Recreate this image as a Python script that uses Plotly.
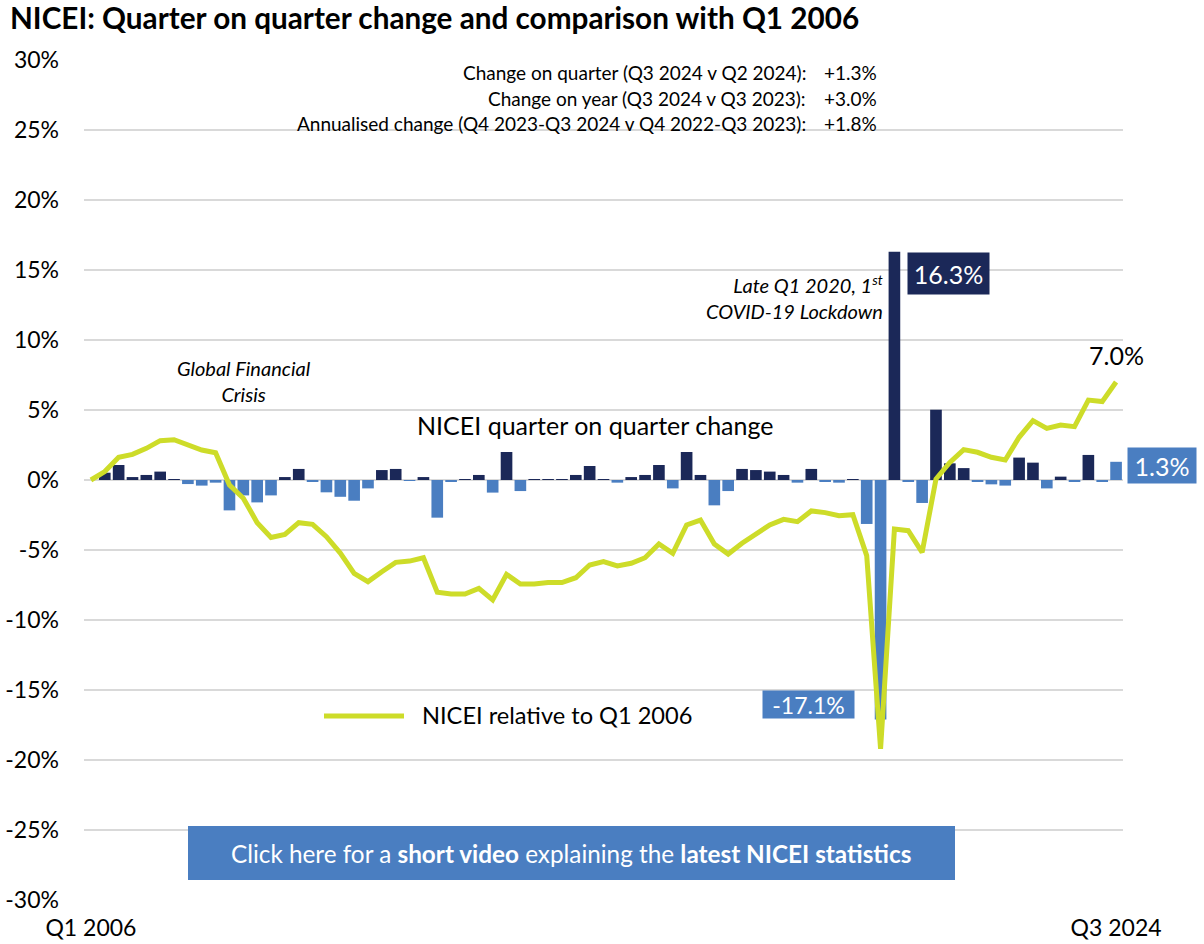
import plotly.graph_objects as go

# ---------------- data ----------------
years = list(range(2006, 2025))
quarters = [f"Q{q} {y}" for y in years for q in (1, 2, 3, 4)][:75]  # Q1 2006 .. Q3 2024

qoq_change = [
    None, 0.52, 1.07, 0.21, 0.36, 0.60, 0.05, -0.29, -0.40, -0.19,
    -2.17, -1.10, -1.60, -1.10, 0.21, 0.79, -0.10, -0.88, -1.20, -1.48,
    -0.60, 0.71, 0.79, -0.02, 0.21, -2.69, -0.12, 0.07, 0.36, -0.90,
    2.00, -0.79, 0.02, 0.07, 0.02, 0.36, 1.00, 0.02, -0.19, 0.21,
    0.36, 1.07, -0.60, 2.00, 0.36, -1.81, -0.79, 0.79, 0.71, 0.60,
    0.36, -0.19, 0.79, -0.10, -0.19, 0.02, -3.14, -17.1, 16.3, -0.10,
    -1.64, 5.02, 1.19, 0.85, -0.12, -0.31, -0.40, 1.60, 1.24, -0.60,
    0.24, -0.12, 1.79, -0.10, 1.3,
]

relative_q1_2006 = [
    0.0, 0.60, 1.62, 1.83, 2.26, 2.81, 2.88, 2.50, 2.14, 1.95,
    -0.36, -1.30, -3.05, -4.10, -3.88, -3.05, -3.17, -4.05, -5.22, -6.67,
    -7.26, -6.55, -5.88, -5.79, -5.55, -8.02, -8.14, -8.14, -7.74, -8.57,
    -6.74, -7.43, -7.43, -7.33, -7.33, -6.98, -6.07, -5.83, -6.14, -5.95,
    -5.55, -4.57, -5.24, -3.21, -2.86, -4.57, -5.29, -4.52, -3.81, -3.21,
    -2.81, -2.98, -2.21, -2.33, -2.55, -2.48, -5.40, -19.2, -3.50, -3.62,
    -5.17, 0.07, 1.26, 2.17, 1.98, 1.62, 1.43, 3.05, 4.24, 3.69,
    3.93, 3.81, 5.71, 5.60, 7.0,
]

x_tick_labels = ["Q1 2006", "Q3 2024"]
y_ticks = [-30, -25, -20, -15, -10, -5, 0, 5, 10, 15, 20, 25, 30]
y_tick_text = [f"{v}%" for v in y_ticks]

stats_labels = [
    "Change on quarter (Q3 2024 v Q2 2024):",
    "Change on year (Q3 2024 v Q3 2023):",
    "Annualised change (Q4 2023-Q3 2024 v Q4 2022-Q3 2023):",
]
stats_values = ["+1.3%", "+3.0%", "+1.8%"]

# ---------------- styling ----------------
NAVY = "#1B2858"
BLUE = "#4A7EC1"
LIME = "#CDDC29"
GRID = "#D9D9D9"
FONT = "Lato"

W, H = 1204, 944
L, R, T, B = 84, 81, 60, 44
PW, PH = W - L - R, H - T - B


def px(xpix):
    return (xpix - L) / PW


def py(ypix):
    return (H - B - ypix) / PH


last_idx = len(quarters) - 1
bar_colors = []
for i, v in enumerate(qoq_change):
    if v is None:
        bar_colors.append(NAVY)
    elif i == last_idx or v < 0:
        bar_colors.append(BLUE)
    else:
        bar_colors.append(NAVY)

fig = go.Figure()
fig.add_trace(go.Bar(
    x=quarters, y=qoq_change, marker=dict(color=bar_colors, line=dict(width=0)),
    name="NICEI quarter on quarter change", showlegend=False,
))
fig.add_trace(go.Scatter(
    x=quarters, y=relative_q1_2006, mode="lines",
    line=dict(color=LIME, width=5), name="NICEI relative to Q1 2006",
    showlegend=False,
))

annotations = []
# stats box
for k, (lab, val) in enumerate(zip(stats_labels, stats_values)):
    yy = 73 + k * 25.5
    annotations.append(dict(xref="paper", yref="paper", x=px(808), y=py(yy),
                            xanchor="right", yanchor="middle", text=lab, showarrow=False,
                            font=dict(family=FONT, size=19, color="#000")))
    annotations.append(dict(xref="paper", yref="paper", x=px(822), y=py(yy),
                            xanchor="left", yanchor="middle", text=val, showarrow=False,
                            font=dict(family=FONT, size=19, color="#000")))

# Global financial crisis
annotations.append(dict(xref="paper", yref="paper", x=px(244), y=py(381),
                        xanchor="center", yanchor="middle",
                        text="<i>Global Financial<br>Crisis</i>", showarrow=False,
                        font=dict(family=FONT, size=20, color="#000")))
# COVID
annotations.append(dict(xref="paper", yref="paper", x=px(885), y=py(297),
                        xanchor="right", yanchor="middle", align="right",
                        text="<i>Late Q1 2020, 1<sup>st</sup><br>COVID-19 Lockdown</i>",
                        showarrow=False, font=dict(family=FONT, size=20, color="#000")))
# bars label
annotations.append(dict(xref="paper", yref="paper", x=px(595), y=py(425),
                        xanchor="center", yanchor="middle",
                        text="NICEI quarter on quarter change", showarrow=False,
                        font=dict(family=FONT, size=25, color="#000")))
# data labels
annotations.append(dict(x=quarters[58], y=qoq_change[58], xref="x", yref="y",
                        xanchor="left", yanchor="top", xshift=13, text="16.3%",
                        showarrow=False, bgcolor=NAVY, borderpad=0, width=81, height=41,
                        font=dict(family=FONT, size=25, color="#fff")))
annotations.append(dict(x=quarters[57], y=qoq_change[57], xref="x", yref="y",
                        xanchor="right", yanchor="bottom", xshift=-26, text="-17.1%",
                        showarrow=False, bgcolor=BLUE, borderpad=0, width=91, height=27,
                        font=dict(family=FONT, size=23, color="#fff")))
annotations.append(dict(x=quarters[-1], y=relative_q1_2006[-1], xref="x", yref="y",
                        xanchor="center", yanchor="bottom", yshift=10, text="7.0%",
                        showarrow=False, font=dict(family=FONT, size=25, color="#000")))
annotations.append(dict(x=quarters[-1], y=qoq_change[-1], xref="x", yref="y",
                        xanchor="left", yanchor="middle", xshift=11, yshift=-4, text="1.3%",
                        showarrow=False, bgcolor=BLUE, borderpad=0, width=68, height=35,
                        font=dict(family=FONT, size=25, color="#fff")))
# legend text
annotations.append(dict(xref="paper", yref="paper", x=px(420), y=py(715),
                        xanchor="left", yanchor="middle", text="NICEI relative to Q1 2006",
                        showarrow=False, font=dict(family=FONT, size=23.6, color="#000")))
# button text
annotations.append(dict(xref="paper", yref="paper", x=px(571), y=py(853),
                        xanchor="center", yanchor="middle",
                        text="Click here for a <b>short video</b> explaining the <b>latest NICEI statistics</b>",
                        showarrow=False, font=dict(family=FONT, size=24.3, color="#fff")))

shapes = [
    dict(type="line", xref="paper", yref="paper", x0=px(324), x1=px(404),
         y0=py(716), y1=py(716), line=dict(color=LIME, width=5)),
    dict(type="rect", xref="paper", yref="paper", x0=px(188), x1=px(955),
         y0=py(880), y1=py(826), fillcolor=BLUE, line=dict(width=0), layer="above"),
]

fig.update_layout(
    width=W, height=H,
    margin=dict(l=L, r=R, t=T, b=B, autoexpand=False),
    paper_bgcolor="#fff", plot_bgcolor="#fff",
    bargap=0.16,
    font=dict(family=FONT, color="#000"),
    title=dict(text="<b>NICEI: Quarter on quarter change and comparison with Q1 2006</b>",
               x=10 / W, xanchor="left", xref="container",
               y=1 - 19 / H, yanchor="middle", yref="container",
               font=dict(family=FONT, size=29.7, color="#000")),
    xaxis=dict(type="category", range=[-0.5, 74.5], tickvals=x_tick_labels,
               ticktext=x_tick_labels, showgrid=False, showline=False, zeroline=False,
               ticks="", tickfont=dict(family=FONT, size=23, color="#000"),
               ticklabelstandoff=12, automargin=False),
    yaxis=dict(range=[-30, 30], tickvals=y_ticks, ticktext=y_tick_text, showgrid=True,
               gridcolor=GRID, gridwidth=2, zeroline=True, zerolinecolor=GRID,
               zerolinewidth=2, showline=False, ticks="",
               tickfont=dict(family=FONT, size=23, color="#000"),
               ticklabelstandoff=24, automargin=False),
    annotations=annotations,
    shapes=shapes,
    hovermode=False,
)

fig.write_html(
    "out.html",
    config={"displayModeBar": False},
    post_script="document.body.style.margin='0';document.body.style.overflow='hidden';",
)
